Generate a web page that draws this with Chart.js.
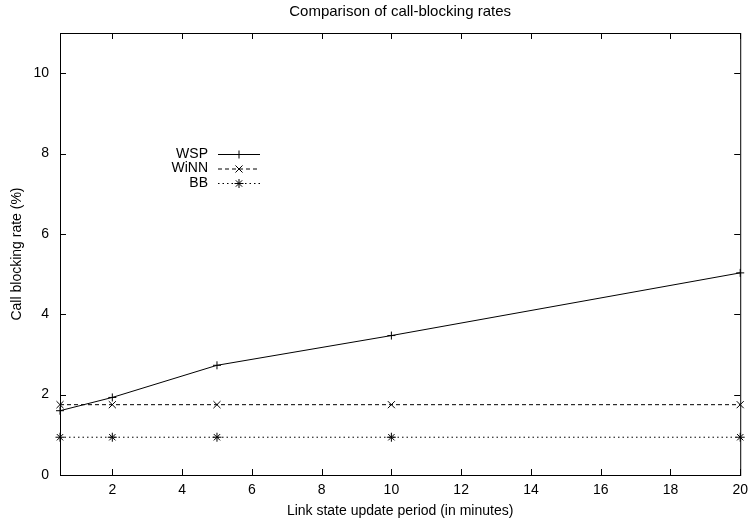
<!DOCTYPE html>
<html>
<head>
<meta charset="utf-8">
<script src="https://cdn.jsdelivr.net/npm/chart.js@4.4.0/dist/chart.umd.min.js"></script>
<style>
html, body { margin: 0; padding: 0; background: #fff; }
#wrap { width: 755px; height: 525px; }
</style>
</head>
<body>
<div id="wrap"><canvas id="chart" width="755" height="525"></canvas></div>
<script>
// Values
const periods = [0.5, 2, 5, 10, 20];
const wspRates = [1.6, 1.93, 2.73, 3.47, 5.03];
const winnRates = [1.75, 1.75, 1.75, 1.75, 1.75];
const bbRates = [0.94, 0.94, 0.94, 0.94, 0.94];
const xTicks = [2, 4, 6, 8, 10, 12, 14, 16, 18, 20];
const yTicks = [0, 2, 4, 6, 8, 10];
const chartTitle = 'Comparison of call-blocking rates';

const FONT = '"Liberation Sans", Arial, sans-serif';

function toPoints(ys) {
    return periods.map((x, i) => ({ x: x, y: ys[i] }));
}

function series(label, ys, dash, style, size) {
    return {
        label: label,
        data: toPoints(ys),
        borderColor: '#000',
        backgroundColor: '#000',
        borderWidth: 1,
        borderDash: dash,
        pointStyle: style,
        pointRadius: size,
        pointBorderWidth: 1,
        pointBorderColor: '#000',
        tension: 0,
        clip: 8,
    };
}

// gnuplot style box with inward ticks on every side
const frame = {
    id: 'frame',
    afterDatasetsDraw(chart) {
        const { ctx, chartArea: a, scales } = chart;
        ctx.save();
        ctx.strokeStyle = '#000';
        ctx.lineWidth = 1;
        ctx.strokeRect(a.left + 0.5, a.top + 0.5, a.right - a.left, a.bottom - a.top);
        ctx.beginPath();
        for (const v of xTicks) {
            const x = Math.round(scales.x.getPixelForValue(v)) + 0.5;
            ctx.moveTo(x, a.bottom); ctx.lineTo(x, a.bottom - 6);
            ctx.moveTo(x, a.top); ctx.lineTo(x, a.top + 6);
        }
        for (const v of yTicks) {
            const y = Math.round(scales.y.getPixelForValue(v)) + 0.5;
            ctx.moveTo(a.left, y); ctx.lineTo(a.left + 6, y);
            ctx.moveTo(a.right, y); ctx.lineTo(a.right - 6, y);
        }
        ctx.stroke();
        // title centred over the plot box, as gnuplot does
        ctx.fillStyle = '#000';
        ctx.font = '15px ' + FONT;
        ctx.textAlign = 'center';
        ctx.textBaseline = 'middle';
        ctx.fillText(chartTitle, (a.left + a.right) / 2, 12);
        ctx.restore();
    }
};

// key in gnuplot layout: text right aligned, sample to its right
const key = {
    id: 'key',
    afterDatasetsDraw(chart) {
        const { ctx, chartArea: a } = chart;
        const textX = a.left + 148;
        const top = a.top + 121;
        ctx.save();
        ctx.font = '14px ' + FONT;
        ctx.textAlign = 'right';
        ctx.textBaseline = 'middle';
        chart.data.datasets.forEach((ds, i) => {
            const y = top + i * 14.5;
            ctx.fillStyle = '#000';
            ctx.fillText(ds.label, textX, y);
            ctx.strokeStyle = '#000';
            ctx.lineWidth = 1;
            ctx.setLineDash(ds.borderDash || []);
            ctx.beginPath();
            ctx.moveTo(textX + 10, y + 0.5);
            ctx.lineTo(textX + 52, y + 0.5);
            ctx.stroke();
            ctx.setLineDash([]);
            Chart.helpers.drawPoint(ctx, {
                pointStyle: ds.pointStyle, radius: ds.pointRadius, borderWidth: 1, rotation: 0
            }, textX + 31, y + 0.5);
        });
        ctx.restore();
    }
};

new Chart('chart', {
    type: 'line',
    data: {
        datasets: [
            series('WSP', wspRates, [], 'cross', 4),
            series('WiNN', winnRates, [4, 3], 'crossRot', 5),
            series('BB', bbRates, [1.5, 3], 'star', 4.5),
        ],
    },
    options: {
        responsive: false,
        animation: false,
        layout: { padding: { left: 0, right: 12, top: 33, bottom: 0 } },
        plugins: {
            legend: { display: false },
            tooltip: { enabled: false },
            title: { display: false },
        },
        scales: {
            x: {
                type: 'linear',
                min: 0.5,
                max: 20,
                afterBuildTicks: s => { s.ticks = xTicks.map(v => ({ value: v })); },
                afterFit: s => { s.height = 50; },
                grid: { display: false, drawTicks: false },
                border: { display: false },
                ticks: { color: '#000', padding: 7, maxRotation: 0, font: { family: FONT, size: 14 } },
                title: {
                    display: true,
                    text: 'Link state update period (in minutes)',
                    color: '#000',
                    font: { family: FONT, size: 14 },
                    padding: { top: 0, bottom: 5 },
                },
            },
            y: {
                type: 'linear',
                min: 0,
                max: 11,
                afterBuildTicks: s => { s.ticks = yTicks.map(v => ({ value: v })); },
                afterFit: s => { s.width = 60; },
                grid: { display: false, drawTicks: false },
                border: { display: false },
                ticks: { color: '#000', padding: 11, font: { family: FONT, size: 14 } },
                title: {
                    display: true,
                    text: 'Call blocking rate (%)',
                    color: '#000',
                    font: { family: FONT, size: 14 },
                    padding: { top: 9, bottom: 0 },
                },
            },
        },
    },
    plugins: [frame, key],
});
</script>
</body>
</html>
